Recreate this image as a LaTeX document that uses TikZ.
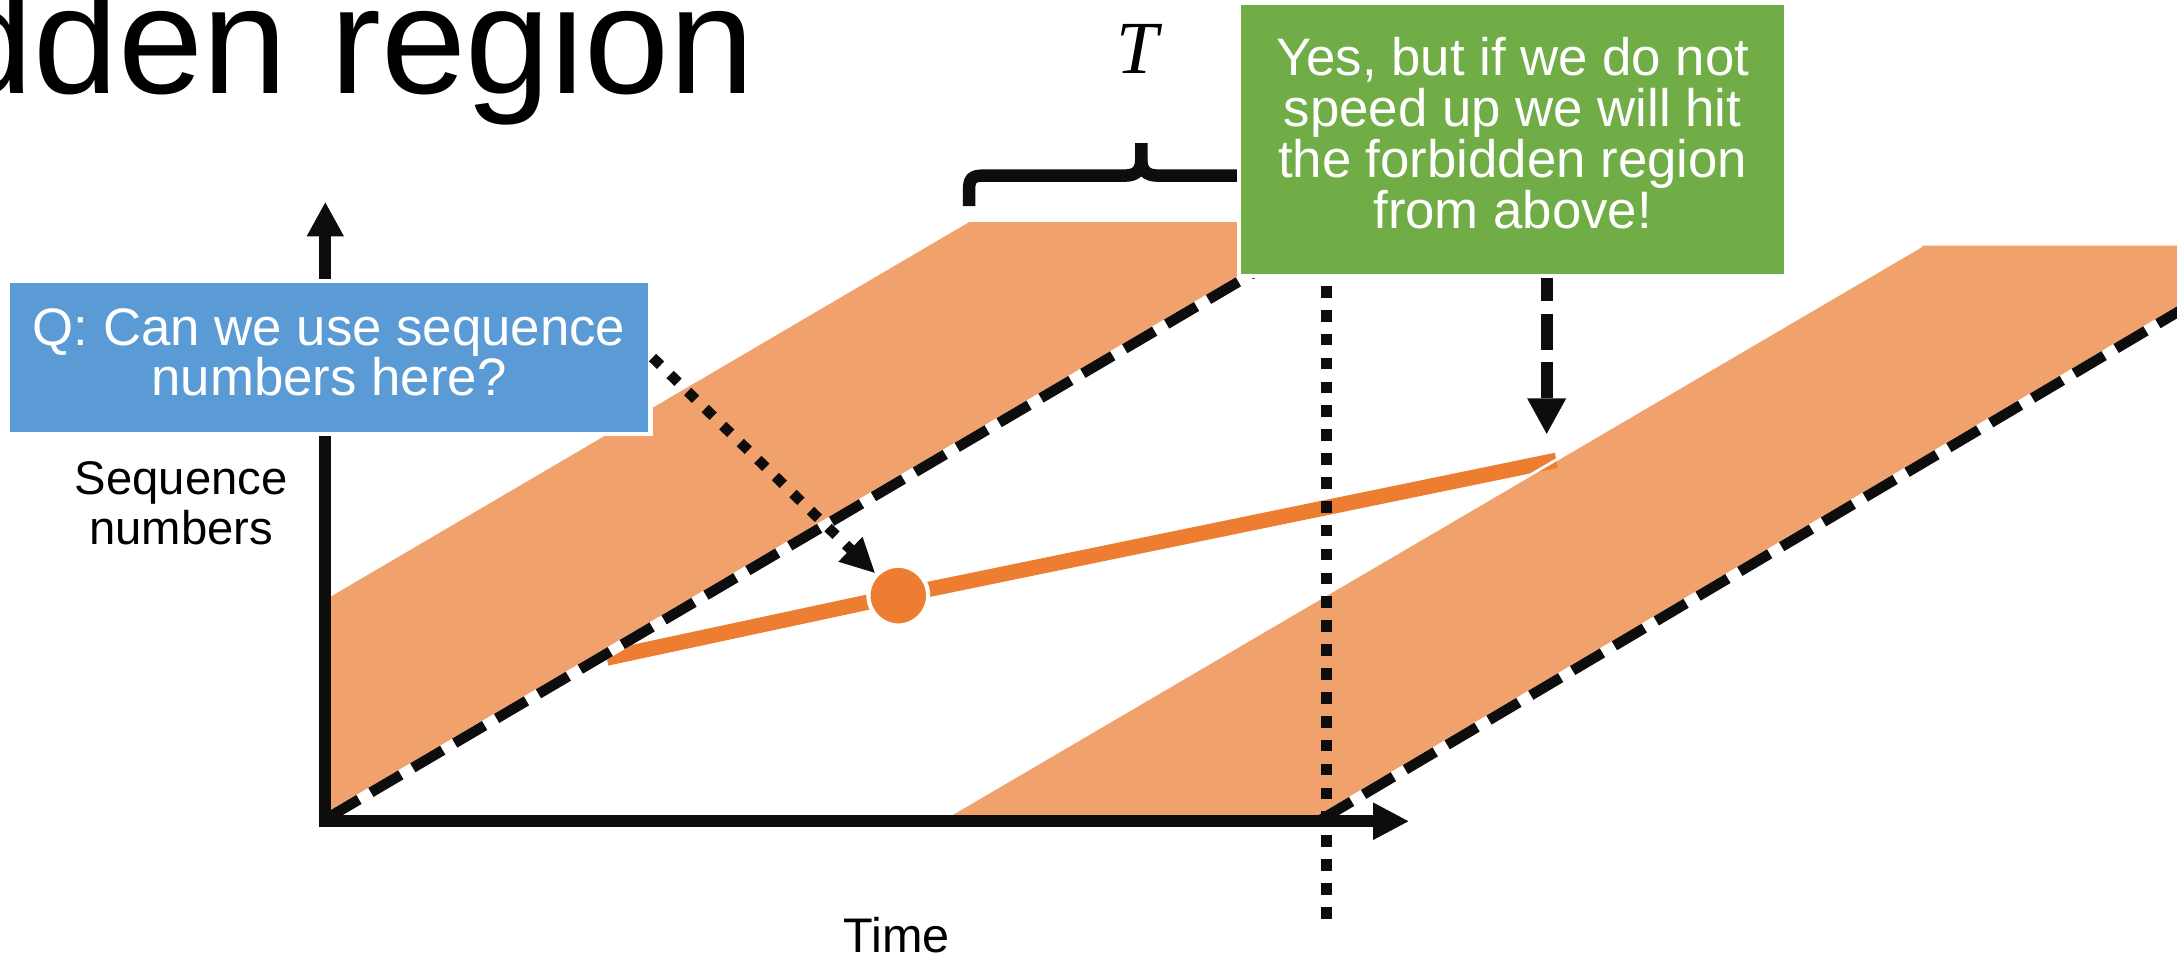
\documentclass[tikz,border=0pt]{standalone}
\usepackage{fontspec}
\setmainfont{Liberation Sans}
\newfontfamily\timesfont{Liberation Serif}
\usetikzlibrary{arrows.meta}
\definecolor{bandorange}{RGB}{241,161,107}
\definecolor{lineorange}{RGB}{237,125,49}
\definecolor{boxblue}{RGB}{91,155,213}
\definecolor{boxgreen}{RGB}{112,173,71}
\definecolor{ink}{RGB}{13,13,13}
\begin{document}
\begin{tikzpicture}[x=1pt,y=-1pt,
  band/.style={fill=bandorange},
  seqline/.style={draw=lineorange, line width=11pt, line cap=butt, line join=round},
  dashunder/.style={draw=white, line width=7.5pt},
  dashblack/.style={draw=ink, line width=7.5pt, dash pattern=on 25pt off 10pt},
  axis/.style={draw=ink, line width=8.8pt, line join=miter,
    {Triangle[length=25pt,width=25pt]}-{Triangle[length=26pt,width=25pt]}},
  vdots/.style={draw=ink, line width=8.4pt, dash pattern=on 8.4pt off 8.8pt},
  dotarrow/.style={draw=ink, line width=7.5pt, dash pattern=on 8pt off 9.6pt,
    -{Triangle[length=25pt,width=23pt]}},
  dasharrow/.style={draw=ink, line width=8.8pt, dash pattern=on 26pt off 9pt, dash phase=9pt,
    -{Triangle[length=26pt,width=26pt]}},
  dotnode/.style={circle, fill=lineorange, draw=white, line width=3pt, minimum size=43pt, inner sep=0pt},
  qbox/.style={rectangle, fill=boxblue, draw=white, line width=3pt, minimum width=463pt,
    minimum height=110pt, inner sep=0pt, text=white, align=center,
    font=\fontsize{38}{36.7}\selectfont, text depth=7.8pt},
  gbox/.style={rectangle, fill=boxgreen, draw=white, line width=3pt, minimum width=394pt,
    minimum height=196.4pt, inner sep=0pt, text=white, align=center,
    font=\fontsize{38}{36.8}\selectfont, text depth=8.8pt},
  bracestyle/.style={draw=ink, line width=9pt, line cap=butt},
  titletext/.style={inner sep=0pt, font=\fontsize{110}{120}\selectfont},
  labeltext/.style={inner sep=0pt, align=center, font=\fontsize{34}{36.1}\selectfont},
  timelabel/.style={inner sep=0pt, font=\fontsize{35}{40}\selectfont},
  tlabel/.style={inner sep=0pt, font=\fontsize{54}{60}\timesfont\itshape}
]
\useasboundingbox (0,0) rectangle (1568,690);
\clip (0,0) rectangle (1568,690);

% coordinates
\coordinate (O) at (234.3,591.5);
\coordinate (ytip) at (234.3,145.3);
\coordinate (xtip) at (1015,591.5);
\coordinate (b1a) at (234.3,589);
\coordinate (b1b) at (234.3,432);
\coordinate (b1c) at (698,160);
\coordinate (b1d) at (965,160);
\coordinate (d1s) at (237,588.5);
\coordinate (b2a) at (679,590);
\coordinate (b2b) at (1384,177);
\coordinate (b2c) at (1649,177);
\coordinate (b2d) at (952,590);
\coordinate (d2e) at (1700,146.8);
\coordinate (ls) at (437,474);
\coordinate (dotc) at (647,429);
\coordinate (le) at (1121,331.5);
\coordinate (vt) at (955.5,206);
\coordinate (vb) at (955.5,664);
\coordinate (atip) at (1114,313);

% forbidden bands
\fill[band] (b1a) -- (b1b) -- (b1c) -- (b1d) -- cycle;
\fill[band] (b2a) -- (b2b) -- (b2c) -- (b2d) -- cycle;

% sequence number line
\draw[seqline] (ls) -- (dotc) -- (le);
\draw[white, line width=2pt] (b2a) -- (b2b);

% dashed lower boundaries
\draw[dashunder] (d1s) -- (b1d);
\draw[dashblack] (d1s) -- (b1d);
\draw[dashunder] (b2d) -- (d2e);
\draw[dashblack] (b2d) -- (d2e);

% axes
\draw[axis] (ytip) -- (O) -- (xtip);

% vertical dotted line
\draw[vdots] (vt) -- (vb);

% current point
\node[dotnode] (dot) at (dotc) {};

% question box
\node[qbox] (qbox) at (237,257.5) {Q: Can we use sequence\\numbers here?};
\draw[dotarrow] (qbox.east) -- (dot);

% brace
\draw[bracestyle] (698,148.4) -- (698,136.5) .. controls (698,129) and (700,126.5) .. (708,126.5)
  -- (810,126.5) .. controls (819,126.5) and (822,122) .. (822,115) -- (822,103);
\draw[bracestyle] (822,115) .. controls (822,122) and (825,126.5) .. (834,126.5)
  -- (936,126.5) .. controls (944,126.5) and (946,129) .. (946,136.5) -- (946,148.4);

% answer box
\node[gbox] (gbox) at (1089.5,100.3) {Yes, but if we do not\\speed up we will hit\\the forbidden region\\from above!};
\draw[dasharrow] (gbox.south -| atip) -- (atip);

% texts
\node[titletext, anchor=base east] (title) at (544,67) {Forbidden region};
\node[tlabel, anchor=base] (tlab) at (819,53) {T};
\node[labeltext] (ylab) at (130.5,362.2) {Sequence\\numbers};
\node[timelabel, anchor=base] (xlab) at (646,686) {Time};
\end{tikzpicture}
\end{document}
